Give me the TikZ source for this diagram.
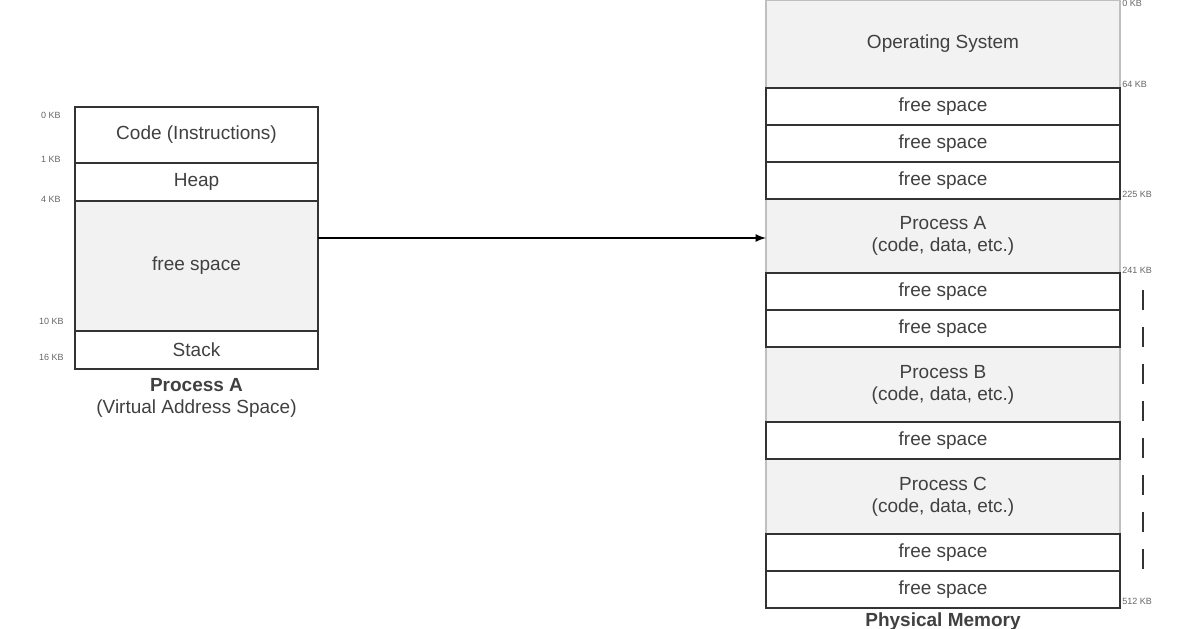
\documentclass[tikz,border=0pt]{standalone}
\usepackage{fontspec}
\setmainfont{Liberation Sans}
\usetikzlibrary{positioning}
\tikzset{
  blk/.style={draw=black!80, line width=1pt, outer sep=0pt, minimum width=354*0.5pt, inner sep=0pt, font=\fontsize{9.5}{11}\selectfont, text=black!75, align=center}, % Speicherblock
  freeblk/.style={blk, fill=white},
  usedblk/.style={blk, fill=black!5, draw=black!25},
  kb/.style={font=\fontsize{4.5}{5}\selectfont, text=black!60, inner sep=1pt, anchor=west}
}
\begin{document}
\begin{tikzpicture}[x=0.5pt, y=-0.5pt, >=latex]
\useasboundingbox (0,0) rectangle (1196,628);

%virtueller Adressraum
\node[freeblk, minimum width=121.5pt, minimum height=28pt] (code) at (196.5,135) {Code (Instructions)};
\node[freeblk, minimum width=121.5pt, minimum height=19pt, below=0pt of code] (heap) {Heap};
\node[usedblk, draw=black!80, minimum width=121.5pt, minimum height=65pt, below=0pt of heap] (vfree) {free space};
\node[freeblk, minimum width=121.5pt, minimum height=19pt, below=0pt of vfree] (stack) {Stack};
\node[below=1pt of stack, font=\fontsize{9.5}{11}\selectfont, text=black!75, align=center] (vname)
  {\textbf{Process A}\\(Virtual Address Space)};

\node[kb, anchor=east] at (63,115) {0 KB};
\node[kb, anchor=east] at (63,159) {1 KB};
\node[kb, anchor=east] at (63,199) {4 KB};
\node[kb, anchor=east] at (66,321) {10 KB};
\node[kb, anchor=east] at (66,357) {16 KB};

%physischer Speicher
\node[usedblk, minimum height=44pt] (os) at (943,44) {Operating System};
\node[freeblk, minimum height=18.5pt, below=0pt of os] (f1) {free space};
\node[freeblk, minimum height=18.5pt, below=0pt of f1] (f2) {free space};
\node[freeblk, minimum height=18.5pt, below=0pt of f2] (f3) {free space};
\node[usedblk, minimum height=37pt, below=0pt of f3] (pa) {Process A\\(code, data, etc.)};
\node[freeblk, minimum height=18.5pt, below=0pt of pa] (f4) {free space};
\node[freeblk, minimum height=18.5pt, below=0pt of f4] (f5) {free space};
\node[usedblk, minimum height=37.5pt, below=0pt of f5] (pb) {Process B\\(code, data, etc.)};
\node[freeblk, minimum height=18.5pt, below=0pt of pb] (f6) {free space};
\node[usedblk, minimum height=37.5pt, below=0pt of f6] (pc) {Process C\\(code, data, etc.)};
\node[freeblk, minimum height=18.5pt, below=0pt of pc] (f7) {free space};
\node[freeblk, minimum height=18.5pt, below=0pt of f7] (f8) {free space};
\node[below=1pt of f8, font=\bfseries\fontsize{9.5}{11}\selectfont, text=black!75, inner sep=1pt] (pname) {Physical Memory};

%Rahmen der freien Bloecke nachziehen
\foreach \n in {f1,f2,f3,f4,f5,f6,f7,f8}
  \draw[black!80, line width=1pt] (\n.south west) rectangle (\n.north east);

\node[kb] at (1120,3) {0 KB};
\node[kb] at (1120,84) {64 KB};
\node[kb] at (1120,194) {225 KB};
\node[kb] at (1120,270) {241 KB};
\node[kb] at (1120,601) {512 KB};

\coordinate (dtop) at (1143,290);
\coordinate (dbot) at (1143,580);
\draw[black!80, line width=1pt, dash pattern=on 10pt off 8.5pt] (dtop) -- (dbot);

%Abbildung
\draw[->, line width=0.8pt] (vfree.east |- 0,238) -- (pa.west |- 0,238);
\end{tikzpicture}
\end{document}
